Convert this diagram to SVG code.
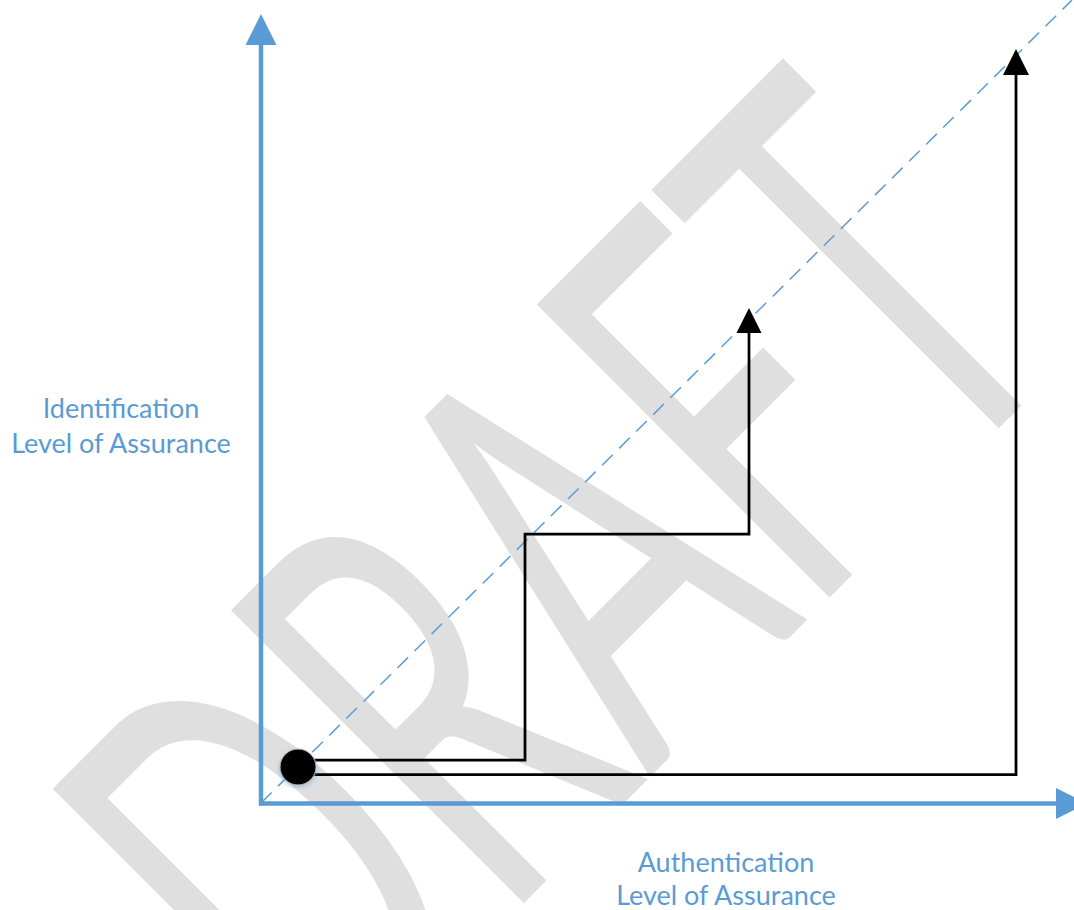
<svg xmlns="http://www.w3.org/2000/svg" width="1074" height="910" viewBox="0 0 1074 910">
  <defs>
    <style>
      .axis { stroke: #5B9BD5; stroke-width: 4.5; fill: none; }
      .axishead { fill: #5B9BD5; }
      .diag { stroke: #5B9BD5; stroke-width: 1.5; stroke-dasharray: 15 9; fill: none; }
      .step { stroke: #000; stroke-width: 2.75; fill: none; stroke-linejoin: miter; }
      .head { fill: #000; }
      .label { font-family: Lato, "Liberation Sans", sans-serif; font-size: 27px; fill: #5B9BD5; text-anchor: middle; }
      .wm { font-family: Lato, "Liberation Sans", sans-serif; font-size: 578px; fill: #DFDFDF; }
    </style>
    <filter id="glow" x="-50%" y="-50%" width="200%" height="200%">
      <feDropShadow dx="0" dy="2" stdDeviation="2.5" flood-color="#5B9BD5" flood-opacity="0.45"/>
    </filter>
  </defs>
  <rect width="1074" height="910" fill="#fff"/>

  <g id="watermark" transform="translate(324,1103) rotate(-45)">
    <text class="wm" x="0" y="0" textLength="1068" lengthAdjust="spacingAndGlyphs">DRAFT</text>
  </g>

  <g id="axes">
    <line class="axis" x1="261" y1="805.5" x2="261" y2="44"/>
    <polygon class="axishead" points="261,14 245.5,45 276.5,45"/>
    <line class="axis" x1="259" y1="803.5" x2="1057" y2="803.5"/>
    <polygon class="axishead" points="1087,803.5 1056,788 1056,819"/>
  </g>

  <g id="connectors">
    <line class="diag" x1="261" y1="803" x2="1072" y2="0"/>
    <path class="step" d="M298,760 H525 V534 H749 V332"/>
    <polygon class="head" points="749,308 736.5,333 761.5,333"/>
    <path class="step" d="M298,774.5 H1016 V74"/>
    <polygon class="head" points="1016,49 1003,75 1029,75"/>
  </g>

  <g id="origin">
    <circle cx="298" cy="767" r="18" fill="#000" stroke="#BDBDBD" stroke-width="1" filter="url(#glow)"/>
  </g>

  <g id="y-label">
    <text class="label" x="121" y="418">Identification</text>
    <text class="label" x="121" y="453">Level of Assurance</text>
  </g>

  <g id="x-label">
    <text class="label" x="726" y="872">Authentication</text>
    <text class="label" x="726" y="905">Level of Assurance</text>
  </g>
</svg>
